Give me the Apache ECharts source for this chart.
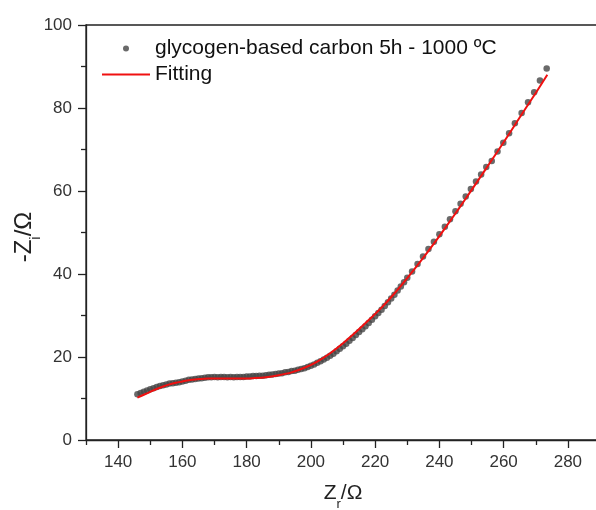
<!DOCTYPE html>
<html>
<head>
<meta charset="utf-8">
<script src="https://cdn.jsdelivr.net/npm/echarts@6/dist/echarts.min.js"></script>
<style>html,body{margin:0;padding:0;background:#fff}#c{width:596px;height:510px}</style>
</head>
<body>
<div id="c"></div>
<script>
// Measured impedance points: Zr (Ω) and -Zi (Ω)
var measZr = [146,147,148,149,150,151,152,153,154,155,156,157,158,159,160,161,162,163,164,165,166,167,168,169,170,171,172,173,174,175,176,177,178,179,180,181,182,183,184,185,186,187,188,189,190,191,192,193,194,195,196,197,198,199,200,201,202,203,204,205,206,207,208,209,210,211,212,213,214,215,216,217,218,219,220,221,222,223,224,225,226,227,228,229,230,231.5,233.2,234.9,236.6,238.3,240.0,241.7,243.3,245.0,246.6,248.2,249.8,251.4,253.0,254.6,256.3,258.1,259.9,261.7,263.5,265.6,267.6,269.5,271.3,273.4];
var measZi = [11.0,11.3,11.6,11.9,12.2,12.5,12.8,13.0,13.2,13.4,13.6,13.7,13.8,13.9,14.1,14.3,14.5,14.6,14.7,14.8,14.9,15.0,15.1,15.1,15.2,15.1,15.2,15.2,15.1,15.2,15.1,15.2,15.2,15.2,15.3,15.3,15.4,15.4,15.5,15.5,15.6,15.7,15.8,15.9,16.0,16.1,16.3,16.4,16.6,16.7,16.9,17.1,17.3,17.6,17.9,18.2,18.6,19.0,19.4,19.8,20.3,20.8,21.4,22.0,22.6,23.2,23.9,24.6,25.3,26.0,26.7,27.4,28.2,29.0,29.8,30.6,31.4,32.3,33.2,34.1,35.0,36.0,37.0,38.0,39.1,40.6,42.4,44.2,46.0,47.8,49.6,51.4,53.2,55.1,56.9,58.7,60.5,62.3,64.0,65.8,67.2,69.5,71.6,73.9,76.3,78.8,81.4,83.8,86.6,89.5];
// Fitting curve
var fitZr = [146,148,150,152,154,156,158,160,162,164,166,168,170,174,178,182,186,190,194,198,202,206,210,214,218,222,226,230,234,238,242,246,250,254,258,262,266,270,273.6];
var fitZi = [10.2,10.9,11.6,12.3,12.9,13.4,13.8,14.1,14.4,14.6,14.7,14.8,14.8,14.8,14.8,14.9,15.1,15.6,16.3,17.4,18.9,20.9,23.3,26.0,28.9,31.9,35.3,39.0,42.9,47.0,51.3,55.7,60.2,64.8,69.4,74.1,78.9,83.6,88.0];
var xMajor = [140,160,180,200,220,240,260,280];
var seriesNames = ['glycogen-based carbon 5h - 1000 ºC', 'Fitting'];

var FONT = '"Liberation Sans", Arial, sans-serif';
function pairs(a, b) { return a.map(function (v, i) { return [v, b[i]]; }); }

var chart = echarts.init(document.getElementById('c'), null, {renderer: 'canvas'});
chart.setOption({
  animation: false,
  backgroundColor: '#fff',
  textStyle: {fontFamily: FONT},
  grid: {left: 86, top: 25, width: 514, height: 415, outerBoundsMode: 'none', containLabel: false,
         show: true, borderColor: '#222', borderWidth: 1.3, backgroundColor: 'transparent'},
  legend: {
    orient: 'vertical', left: 96, top: 33, itemGap: 5,
    itemWidth: 48, itemHeight: 6,
    textStyle: {fontFamily: FONT, fontSize: 21, color: '#111'},
    data: [{name: seriesNames[0], icon: 'circle'}, {name: seriesNames[1], itemStyle: {opacity: 0}}]
  },
  xAxis: [{
    type: 'value', min: 130, max: 290, interval: 10,
    name: '{a|Z}{s|r}{a|/Ω}', nameLocation: 'middle', nameGap: 39, nameMoveOverlap: false,
    nameTextStyle: {rich: {
      a: {fontFamily: FONT, fontSize: 21, color: '#222', lineHeight: 28, verticalAlign: 'middle'},
      s: {fontFamily: FONT, fontSize: 13, color: '#222', lineHeight: 28, verticalAlign: 'bottom', padding: [0, 0, -4, 0]}
    }},
    axisLine: {show: true, onZero: false, lineStyle: {color: '#222', width: 1.3}},
    axisTick: {show: true, length: 8, customValues: xMajor, lineStyle: {color: '#222', width: 1.3}},
    axisLabel: {customValues: xMajor, margin: 14, fontSize: 17, color: '#333', fontFamily: FONT},
    splitLine: {show: false}
  }, {
    type: 'value', min: 130, max: 290, interval: 20, position: 'bottom',
    axisLine: {show: false}, axisLabel: {show: false}, splitLine: {show: false},
    axisTick: {show: true, length: 5, lineStyle: {color: '#222', width: 1.3}}
  }],
  yAxis: {
    type: 'value', min: 0, max: 100, interval: 20,
    name: '{a|-Z}{s|i}{a|/Ω}', nameLocation: 'middle', nameRotate: 90, nameGap: 47, nameMoveOverlap: false,
    nameTextStyle: {padding: [0, 9, 0, 0], rich: {
      a: {fontFamily: FONT, fontSize: 24, color: '#222', lineHeight: 30, verticalAlign: 'middle'},
      s: {fontFamily: FONT, fontSize: 15, color: '#222', lineHeight: 30, verticalAlign: 'bottom', padding: [0, 0, -4, 0]}
    }},
    axisLine: {show: true, onZero: false, lineStyle: {color: '#222', width: 1.3}},
    axisTick: {show: true, length: 8, lineStyle: {color: '#222', width: 1.3}},
    minorTick: {show: true, splitNumber: 2, length: 5, lineStyle: {color: '#222', width: 1.3}},
    axisLabel: {margin: 14, fontSize: 17, color: '#333', fontFamily: FONT},
    splitLine: {show: false}, minorSplitLine: {show: false}
  },
  series: [{
    name: seriesNames[0], type: 'scatter', xAxisIndex: 0,
    data: pairs(measZr, measZi), symbol: 'circle', symbolSize: 6.5,
    itemStyle: {color: '#454545'}, z: 2
  }, {
    name: seriesNames[1], type: 'line', xAxisIndex: 0,
    data: pairs(fitZr, fitZi), smooth: 0.3, symbol: 'none', showSymbol: false,
    lineStyle: {color: '#f01010', width: 2}, itemStyle: {color: '#f01010'}, z: 3
  }]
});
</script>
</body>
</html>
